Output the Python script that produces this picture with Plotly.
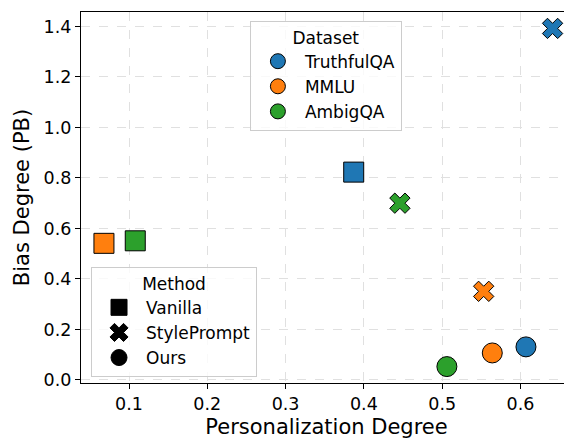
import plotly.graph_objects as go

datasets = ["TruthfulQA", "MMLU", "AmbigQA"]
colors = ["#1f77b4", "#ff7f0e", "#2ca02c"]
methods = ["Vanilla", "StylePrompt", "Ours"]
symbols = ["square", "x", "circle"]

vanilla_x = [0.387, 0.068, 0.108]
vanilla_y = [0.823, 0.541, 0.551]
style_x = [0.641, 0.553, 0.446]
style_y = [1.392, 0.351, 0.700]
ours_x = [0.607, 0.564, 0.506]
ours_y = [0.131, 0.107, 0.053]

method_data = {
    "Vanilla": (vanilla_x, vanilla_y),
    "StylePrompt": (style_x, style_y),
    "Ours": (ours_x, ours_y),
}
sizes = {"Vanilla": 20, "StylePrompt": 18, "Ours": 20}

fig = go.Figure()
for m, sym in zip(methods, symbols):
    xs, ys = method_data[m]
    fig.add_trace(go.Scatter(
        x=xs, y=ys, mode="markers", showlegend=False,
        marker=dict(symbol=sym, size=sizes[m], color=colors,
                    line=dict(color="black", width=1)),
    ))

for d, c in zip(datasets, colors):
    fig.add_trace(go.Scatter(
        x=[None], y=[None], mode="markers", name=d, legend="legend",
        marker=dict(symbol="circle", size=15, color=c, line=dict(color="black", width=1)),
    ))
for m, sym in zip(methods, symbols):
    fig.add_trace(go.Scatter(
        x=[None], y=[None], mode="markers", name=m, legend="legend2",
        marker=dict(symbol=sym, size=16, color="black", line=dict(color="black", width=1)),
    ))

font_family = "DejaVu Sans"
axis_common = dict(
    showgrid=True, gridcolor="#e0e0e0", griddash="dash", gridwidth=1,
    zeroline=False, ticks="outside", ticklen=5, tickwidth=1, tickcolor="black",
    tickfont=dict(size=17.5, color="black", family=font_family),
    linecolor="black", linewidth=1.3, showline=True, automargin=False,
)

fig.update_layout(
    width=564, height=431,
    margin=dict(l=73, r=0, t=4, b=56),
    paper_bgcolor="white", plot_bgcolor="white",
    font=dict(family=font_family, color="black"),
    xaxis=dict(range=[0.0387, 0.6658], tickvals=[0.1, 0.2, 0.3, 0.4, 0.5, 0.6],
               ticktext=["0.1", "0.2", "0.3", "0.4", "0.5", "0.6"], mirror=True,
               title=dict(text="Personalization Degree", font=dict(size=21), standoff=7),
               **axis_common),
    yaxis=dict(range=[-0.012, 1.457], tickvals=[0.0, 0.2, 0.4, 0.6, 0.8, 1.0, 1.2, 1.4],
               ticktext=["0.0", "0.2", "0.4", "0.6", "0.8", "1.0", "1.2", "1.4"], mirror=False,
               title=dict(text="Bias Degree (PB)", font=dict(size=21), standoff=8),
               **axis_common),
    legend=dict(
        title=dict(text="Dataset", side="top center", font=dict(size=17)),
        x=0.344, y=0.977, xanchor="left", yanchor="top",
        bgcolor="rgba(255,255,255,0.8)", bordercolor="#cccccc", borderwidth=1,
        font=dict(size=17), itemsizing="trace", itemwidth=44,
    ),
    legend2=dict(
        title=dict(text="Method", side="top center", font=dict(size=17)),
        x=0.0204, y=0.3135, xanchor="left", yanchor="top",
        bgcolor="rgba(255,255,255,0.8)", bordercolor="#cccccc", borderwidth=1,
        font=dict(size=17), itemsizing="trace", itemwidth=44,
    ),
)

fig.write_html("out.html")
